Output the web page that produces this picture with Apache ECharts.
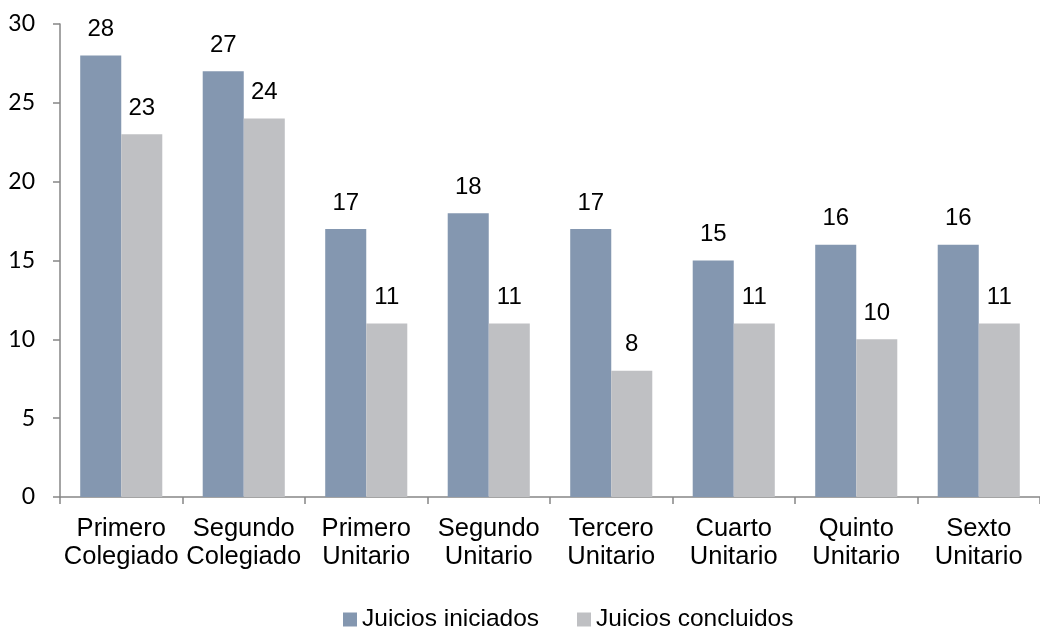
<!DOCTYPE html>
<html><head><meta charset="utf-8">
<script src="https://cdn.jsdelivr.net/npm/echarts@6/dist/echarts.min.js"></script>
<style>html,body{margin:0;padding:0;background:#fff;overflow:hidden}#c{width:1040px;height:641px}</style>
</head><body><div id="c"></div>
<script>
const categories = ['Primero\nColegiado','Segundo\nColegiado','Primero\nUnitario','Segundo\nUnitario','Tercero\nUnitario','Cuarto\nUnitario','Quinto\nUnitario','Sexto\nUnitario'];
const iniciados = [28,27,17,18,17,15,16,16];
const concluidos = [23,24,11,11,8,11,10,11];
const seriesNames = ['Juicios iniciados','Juicios concluidos'];

const FONT = 'Liberation Sans, Arial, sans-serif';
const chart = echarts.init(document.getElementById('c'));
const lbl = {show:true, position:'top', distance:14, color:'#000', fontSize:24, fontFamily:FONT};
chart.setOption({
  animation:false,
  grid:{left:60, right:-4, top:24, bottom:144, containLabel:false},
  legend:{left:338, top:602, itemWidth:14, itemHeight:14, itemGap:38,
    textStyle:{fontSize:24.5, color:'#000', fontFamily:FONT},
    data:seriesNames, icon:'rect'},
  xAxis:{type:'category', data:categories,
    axisLine:{lineStyle:{color:'#868686', width:1.5}},
    axisTick:{show:true, length:7, alignWithLabel:false, lineStyle:{color:'#868686', width:1.5}},
    axisLabel:{fontSize:25.5, color:'#000', lineHeight:28, margin:18, interval:0, fontFamily:FONT}},
  yAxis:{type:'value', min:0, max:30, interval:5,
    splitLine:{show:false},
    axisLine:{show:true, lineStyle:{color:'#868686', width:1.5}},
    axisTick:{show:true, length:7, lineStyle:{color:'#868686', width:1.5}},
    axisLabel:{fontSize:23, color:'#000', margin:25, fontFamily:'Lato, sans-serif'}},
  series:[
    {name:seriesNames[0], type:'bar', data:iniciados, barGap:'0%', barCategoryGap:'33%',
      itemStyle:{color:'#8497B0'}, label:lbl},
    {name:seriesNames[1], type:'bar', data:concluidos, barGap:'0%', barCategoryGap:'33%',
      itemStyle:{color:'#BFC0C3'}, label:lbl}
  ]
});
</script></body></html>
